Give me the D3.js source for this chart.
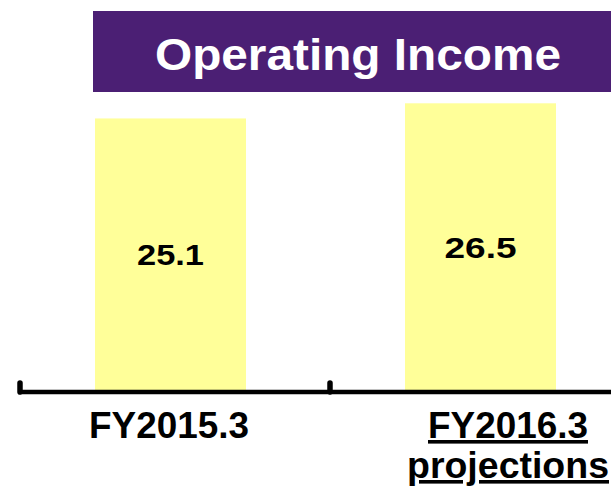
<!DOCTYPE html>
<html>
  <head>
    <meta charset="utf-8">
    <title>Operating Income</title>
    <script src="https://d3js.org/d3.v7.min.js" charset="utf-8"></script>
    <style>
      body { margin: 0; background: #fff; }
      text { font-family: "Liberation Sans", Arial, sans-serif; font-weight: bold; }
    </style>
  </head>
  <body>
    <script>
      var width = 611;
      var height = 489;

      // data
      var categories = ["FY2015.3", "FY2016.3"];
      var values = [25.1, 26.5];
      var valueLabels = ["25.1", "26.5"];
      var title = "Operating Income";

      var svg = d3.select("body")
          .append("svg")
          .attr("width", width)
          .attr("height", height);

      // title banner
      svg.append("rect")
        .attr("x", 93).attr("y", 11)
        .attr("width", width - 93).attr("height", 81)
        .attr("fill", "#4b1f74");

      svg.append("text")
        .attr("x", 358).attr("y", 70)
        .attr("text-anchor", "middle")
        .attr("font-size", 44)
        .attr("fill", "#fff")
        .attr("textLength", 406)
        .attr("lengthAdjust", "spacingAndGlyphs")
        .text(title);

      // scales
      var x = d3.scaleBand()
        .domain(categories)
        .range([20, 640]);

      var y = d3.scaleLinear()
        .domain([0, 26.5])
        .range([390, 103.3]);

      var labelX = d3.scalePoint()
        .domain(categories)
        .range([169, 508]);

      var barWidth = 151;

      // bars
      svg.selectAll("rect.bar")
        .data(values)
        .enter()
        .append("rect")
        .attr("class", "bar")
        .attr("x", function(d, i) { return x(categories[i]) + 75; })
        .attr("y", function(d) { return y(d); })
        .attr("width", barWidth)
        .attr("height", function(d) { return y(0) - y(d); })
        .attr("fill", "#ffff99");

      // value labels
      svg.selectAll("text.val")
        .data(values)
        .enter()
        .append("text")
        .attr("class", "val")
        .attr("x", function(d, i) { return x(categories[i]) + 75 + barWidth / 2; })
        .attr("y", function(d) { return y(d / 2) + 11; })
        .attr("text-anchor", "middle")
        .attr("font-size", 30)
        .attr("fill", "#000")
        .attr("textLength", function(d, i) { return i == 0 ? 67 : 72; })
        .attr("lengthAdjust", "spacingAndGlyphs")
        .text(function(d, i) { return valueLabels[i]; });

      // axis line + ticks
      svg.append("line")
        .attr("x1", 18).attr("x2", width)
        .attr("y1", 392).attr("y2", 392)
        .attr("stroke", "#000")
        .attr("stroke-width", 4.5);

      svg.selectAll("line.tick")
        .data(categories)
        .enter()
        .append("line")
        .attr("class", "tick")
        .attr("x1", function(d) { return x(d); })
        .attr("x2", function(d) { return x(d); })
        .attr("y1", 383).attr("y2", 392)
        .attr("stroke", "#000")
        .attr("stroke-width", 5.5)
        .attr("stroke-linecap", "round");

      // category labels
      var cat = svg.selectAll("g.cat")
        .data(categories)
        .enter()
        .append("g")
        .attr("class", "cat");

      cat.append("text")
        .attr("x", function(d) { return labelX(d); })
        .attr("y", 438)
        .attr("text-anchor", "middle")
        .attr("font-size", 36)
        .attr("fill", "#000")
        .attr("textLength", 160)
        .attr("lengthAdjust", "spacingAndGlyphs")
        .attr("text-decoration", function(d, i) { return i == 1 ? "underline" : null; })
        .text(function(d) { return d; });

      // projections line under second label
      svg.append("text")
        .attr("x", labelX(categories[1]))
        .attr("y", 478)
        .attr("text-anchor", "middle")
        .attr("font-size", 36)
        .attr("fill", "#000")
        .attr("textLength", 202)
        .attr("lengthAdjust", "spacingAndGlyphs")
        .attr("text-decoration", "underline")
        .text("projections");
    </script>
  </body>
</html>
